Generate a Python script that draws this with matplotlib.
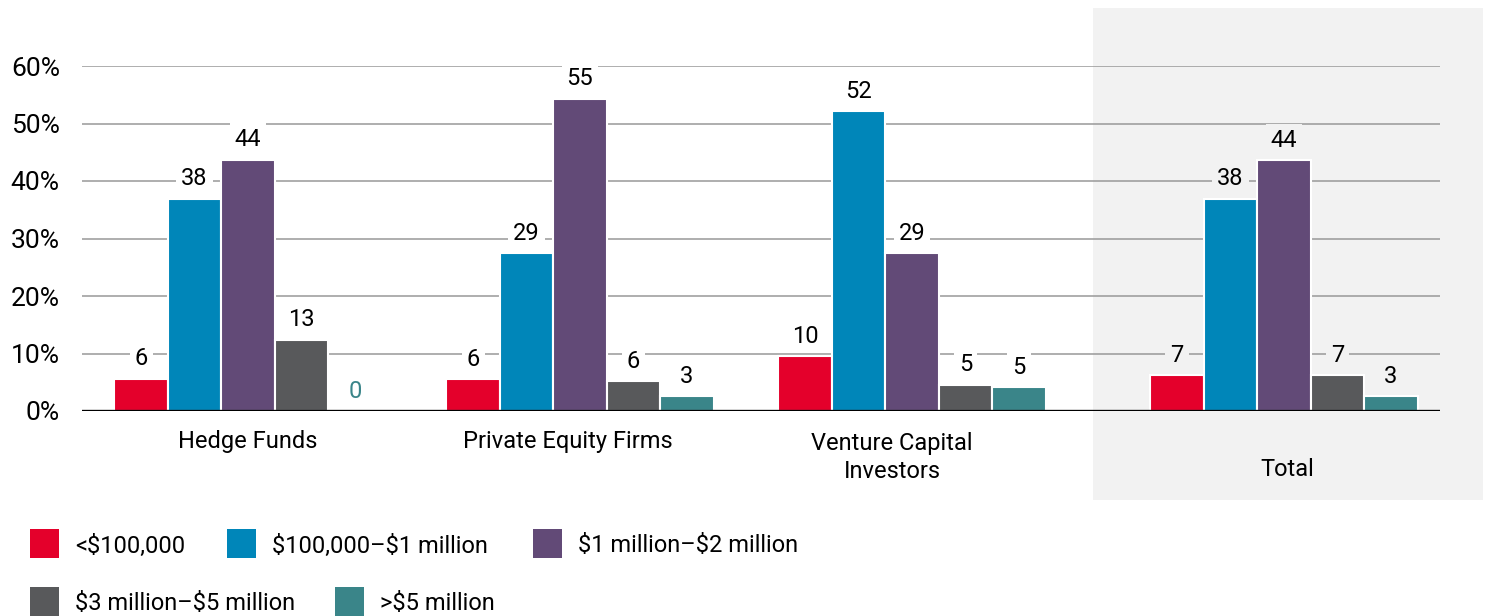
import matplotlib
matplotlib.use("Agg")
import matplotlib.pyplot as plt
import matplotlib.patches as patches

plt.rcParams['font.family'] = ['Roboto', 'DejaVu Sans']
plt.rcParams['text.parse_math'] = False

# --- data ---
categories = ['Hedge Funds', 'Private Equity Firms', 'Venture Capital\nInvestors', 'Total']
series = ['<$100,000', '$100,000–$1 million', '$1 million–$2 million',
          '$3 million–$5 million', '>$5 million']
colors = ['#E4002B', '#0086B9', '#624A77', '#58595B', '#3A8589']

# bar heights as drawn (percent)
under_100k = [5.6, 5.5, 9.5, 6.2]
k100_to_1m = [36.9, 27.4, 52.1, 36.9]
m1_to_2m = [43.7, 54.3, 27.4, 43.6]
m3_to_5m = [12.4, 5.2, 4.6, 6.2]
over_5m = [0.0, 2.6, 4.2, 2.6]
values = [under_100k, k100_to_1m, m1_to_2m, m3_to_5m, over_5m]

# labels printed above bars
labels_under_100k = ['6', '6', '10', '7']
labels_100k_1m = ['38', '29', '52', '38']
labels_1m_2m = ['44', '55', '29', '44']
labels_3m_5m = ['13', '6', '5', '7']
labels_over_5m = ['0', '3', '5', '3']
bar_labels = [labels_under_100k, labels_100k_1m, labels_1m_2m, labels_3m_5m, labels_over_5m]

yticks = [0, 10, 20, 30, 40, 50, 60]

# --- layout ---
W, H = 1486, 616
fig = plt.figure(figsize=(W / 100, H / 100), dpi=100)
ax = fig.add_axes([82 / W, 1 - 411 / H, (1440 - 82) / W, (411 - 66) / H])
ax.set_facecolor('none')

# gray "Total" panel behind the axes
panel = patches.Rectangle((1093 / W, 1 - 500 / H), 390 / W, 492 / H,
                          transform=fig.transFigure, facecolor='#F2F2F2',
                          edgecolor='none', zorder=-1)
fig.patches.append(panel)

group_pos = [0, 1, 2.0, 3.12]
step = 0.161
for i, (vals, labs) in enumerate(zip(values, bar_labels)):
    xs = [p + (i - 2) * step for p in group_pos]
    ax.bar(xs, vals, width=step, color=colors[i], edgecolor='white',
           linewidth=1.5, zorder=2)
    for j, (x, v, lab) in enumerate(zip(xs, vals, labs)):
        bg = '#F2F2F2' if j == 3 else 'white'
        tcolor = colors[i] if lab == '0' else 'black'
        ax.annotate(lab, (x, v), xytext=(0, 6), textcoords='offset points',
                    ha='center', va='bottom', fontsize=17, color=tcolor,
                    annotation_clip=False, zorder=3,
                    bbox=dict(facecolor=bg, edgecolor='none', pad=3.5))

ax.set_xlim(-0.5, 3.59)
ax.set_ylim(0, 60)
ax.set_yticks(yticks)
ax.set_yticklabels([f'{t}%' for t in yticks], fontsize=19)
ax.tick_params(axis='y', length=0, pad=16)
ax.set_xticks([])
for s in ax.spines.values():
    s.set_visible(False)
ax.yaxis.grid(True, color='#999999', linewidth=1.1)
ax.set_axisbelow(True)
ax.axhline(0, color='black', linewidth=2.4, zorder=4)

# category labels
cat_x = [0, 0.962, 1.94, 3.13]
cat_y = [-0.087, -0.087, -0.134, -0.171]
trans = ax.get_xaxis_transform()
for p, name, y in zip(cat_x, categories, cat_y):
    ax.text(p, y, name, transform=trans, ha='center', va='center',
            fontsize=17, linespacing=1.3)

# legend, laid out as in the original flow
legend_spots = [(30, 543), (227, 543), (533, 543), (30, 601), (335, 601)]
for (px, py), name, c in zip(legend_spots, series, colors):
    fig.patches.append(patches.Rectangle((px / W, 1 - (py + 14.5) / H), 29 / W, 29 / H,
                                         transform=fig.transFigure,
                                         facecolor=c, edgecolor='none'))
    fig.text((px + 45) / W, 1 - (py + 3) / H, name, ha='left', va='center', fontsize=17)

fig.savefig('out.png', dpi=100)
